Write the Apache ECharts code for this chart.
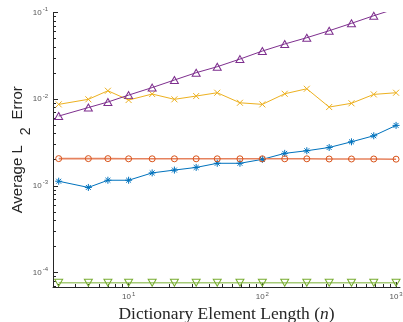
<!DOCTYPE html>
<html>
<head>
<meta charset="utf-8">
<script src="https://cdn.jsdelivr.net/npm/echarts@6/dist/echarts.min.js"></script>
<style>
  html, body { margin: 0; padding: 0; background: #fff; }
  #chart { width: 403px; height: 322px; }
</style>
</head>
<body>
<div id="chart"></div>
<script>
// Dictionary element lengths (x) and average L2 error per method (y)
const lengths = [3, 5, 7, 10, 15, 22, 32, 46, 68, 100, 147, 215, 316, 464, 681, 1000];

const errStar = [0.00113, 0.000958, 0.00116, 0.00116, 0.00141, 0.00152, 0.00163, 0.00182,
                 0.00182, 0.00202, 0.00237, 0.00254, 0.00277, 0.00322, 0.00378, 0.00498];
const errCircle = [0.00206, 0.00206, 0.00206, 0.00205, 0.00205, 0.00205, 0.00205, 0.00205,
                   0.00205, 0.00205, 0.00205, 0.00205, 0.00204, 0.00204, 0.00204, 0.00203];
const errCross = [0.00871, 0.00996, 0.0125, 0.00977, 0.01146, 0.00996, 0.01086, 0.01186,
                  0.00908, 0.00871, 0.01154, 0.01318, 0.00811, 0.00896, 0.01135, 0.01186];
const errTriUp = [0.00638, 0.0080, 0.00927, 0.01114, 0.0136, 0.01663, 0.0202, 0.02367,
                  0.0290, 0.0359, 0.0433, 0.0512, 0.0616, 0.0750, 0.0918, 0.111];
const errTriDown = [7.6e-5, 7.6e-5, 7.6e-5, 7.6e-5, 7.6e-5, 7.6e-5, 7.6e-5, 7.6e-5,
                    7.6e-5, 7.6e-5, 7.6e-5, 7.6e-5, 7.6e-5, 7.6e-5, 7.6e-5, 7.6e-5];

// Axis ranges and decade tick values
const xRange = [2.72, 1070];
const yRange = [6.8e-5, 0.1];
const xMajor = [10, 100, 1000];
const yMajor = [1e-4, 1e-3, 1e-2, 1e-1];
const minorMultipliers = [2, 3, 4, 5, 6, 7, 8, 9];

function minorTicks(range, decades) {
  const out = [];
  decades.forEach(function (d) {
    minorMultipliers.forEach(function (m) {
      const v = m * d;
      if (v > range[0] && v < range[1]) out.push(v);
    });
  });
  return out;
}
const xMinor = minorTicks(xRange, [1, 10, 100]);
const yMinor = minorTicks(yRange, [1e-5, 1e-4, 1e-3, 1e-2]);

const axisColor = '#262626';
const labelColor = '#555555';

function powLabel(v) {
  const e = Math.round(Math.log10(v));
  return '{b|10}{e|' + e + '}';
}
const powRich = {
  b: { fontFamily: 'Liberation Sans', fontSize: 8, color: labelColor, lineHeight: 10 },
  e: { fontFamily: 'Liberation Sans', fontSize: 6, color: labelColor, lineHeight: 8, padding: [0, 0, 6, 1] }
};

function sym(path) { return 'path://' + path; }
const SYM_STAR = sym('M5,0L5,10M0,5L10,5M1.5,1.5L8.5,8.5M8.5,1.5L1.5,8.5');
const SYM_CROSS = sym('M0,0L10,10M10,0L0,10');
const SYM_TRI_UP = sym('M5,0L10,8.66L0,8.66Z');
const SYM_TRI_DOWN = sym('M0,0L10,0L5,8.66Z');

function pairs(ys) { return lengths.map(function (x, i) { return [x, ys[i]]; }); }

function lineSeries(name, ys, color, lineColor, lineWidth, symbol, size) {
  return {
    name: name,
    type: 'line',
    data: pairs(ys),
    symbol: symbol,
    symbolSize: size,
    showAllSymbol: true,
    clip: true,
    lineStyle: { color: lineColor, width: lineWidth },
    itemStyle: { color: 'rgba(0,0,0,0)', borderColor: color, borderWidth: 1 },
    emphasis: { disabled: true },
    animation: false
  };
}

const chart = echarts.init(document.getElementById('chart'), null, { renderer: 'canvas' });

const baseX = {
  type: 'log', logBase: 10, min: xRange[0], max: xRange[1], position: 'bottom', gridIndex: 0,
  splitLine: { show: false }, minorTick: { show: false }, minorSplitLine: { show: false }
};
const baseY = {
  type: 'log', logBase: 10, min: yRange[0], max: yRange[1], position: 'left', gridIndex: 0,
  splitLine: { show: false }, minorTick: { show: false }, minorSplitLine: { show: false }
};

chart.setOption({
  backgroundColor: '#ffffff',
  animation: false,
  grid: { left: 53, top: 12.5, width: 347, height: 274.5, outerBoundsMode: 'none' },
  xAxis: [
    Object.assign({}, baseX, {
      name: '{r|Dictionary Element Length (}{i|n}{r|)}',
      nameLocation: 'middle',
      nameGap: 18,
      nameMoveOverlap: false,
      nameTextStyle: {
        rich: {
          r: { fontFamily: 'Liberation Serif', fontSize: 17.5, color: '#262626' },
          i: { fontFamily: 'Liberation Serif', fontStyle: 'italic', fontSize: 17.5, color: '#262626' }
        }
      },
      axisLine: { show: true, onZero: false, lineStyle: { color: axisColor, width: 1 } },
      axisTick: { show: true, inside: true, length: 5, customValues: xMajor, lineStyle: { color: axisColor, width: 1 } },
      axisLabel: { show: true, customValues: xMajor, margin: 5, formatter: powLabel, rich: powRich }
    }),
    Object.assign({}, baseX, {
      axisLine: { show: false, onZero: false },
      axisTick: { show: true, inside: true, length: 3, customValues: xMinor, lineStyle: { color: axisColor, width: 1 } },
      axisLabel: { show: false }
    })
  ],
  yAxis: [
    Object.assign({}, baseY, {
      name: '{a|Average L}{s|2}{a|Error}',
      nameLocation: 'middle',
      nameRotate: 90,
      nameGap: 23,
      nameMoveOverlap: false,
      nameTextStyle: {
        rich: {
          a: { fontFamily: 'Liberation Sans', fontSize: 15, color: '#262626', lineHeight: 24 },
          s: { fontFamily: 'Liberation Sans', fontSize: 14, color: '#262626', padding: [16, 8, 0, 10], lineHeight: 16 }
        }
      },
      axisLine: { show: true, onZero: false, lineStyle: { color: axisColor, width: 1 } },
      axisTick: { show: true, inside: true, length: 5, customValues: yMajor, lineStyle: { color: axisColor, width: 1 } },
      axisLabel: { show: true, customValues: yMajor, margin: 5, formatter: powLabel, rich: powRich }
    }),
    Object.assign({}, baseY, {
      axisLine: { show: false, onZero: false },
      axisTick: { show: true, inside: true, length: 3, customValues: yMinor, lineStyle: { color: axisColor, width: 1 } },
      axisLabel: { show: false }
    })
  ],
  series: [
    lineSeries('Method 1', errStar, '#0072BD', '#0072BD', 1, SYM_STAR, 7),
    lineSeries('Method 2', errCircle, '#D95319', '#E6825E', 1.6, 'circle', 6),
    lineSeries('Method 3', errCross, '#EDB120', '#EDB120', 1, SYM_CROSS, 6),
    lineSeries('Method 4', errTriUp, '#7E2F8E', '#7E2F8E', 1, SYM_TRI_UP, [8, 7]),
    lineSeries('Method 5', errTriDown, '#77AC30', '#A6CB78', 1.6, SYM_TRI_DOWN, [8, 7])
  ]
});
</script>
</body>
</html>
